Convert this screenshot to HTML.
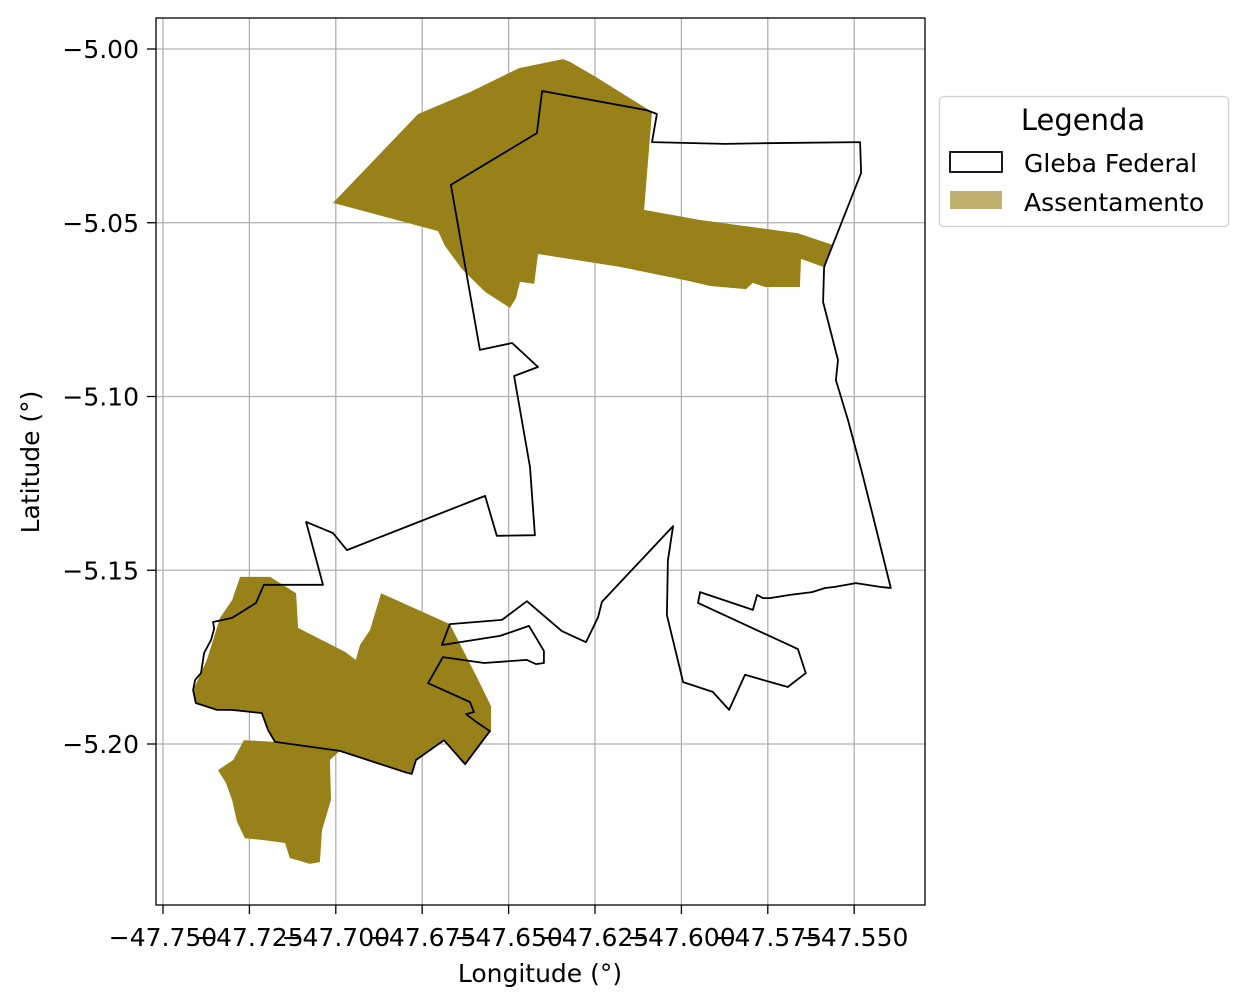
<!DOCTYPE html>
<html><head><meta charset="utf-8"><style>
html,body{margin:0;padding:0;background:#fff;}
svg{display:block;font-family:"DejaVu Sans","Liberation Sans",sans-serif;}
</style></head><body>
<svg id="chart" width="1246" height="1006" viewBox="0 0 1246 1006">
<rect x="0" y="0" width="1246" height="1006" fill="#fff"/>
<g id="grid"></g>
<g id="marks"></g>
<rect x="156" y="18" width="769" height="887" fill="none" stroke="#000" stroke-width="1.3"/>
<g id="ticks"></g>
<text x="540" y="982" font-size="25" text-anchor="middle">Longitude (°)</text>
<text x="39" y="462" font-size="25" text-anchor="middle" transform="rotate(-90 39 462)">Latitude (°)</text>
<g>
<rect x="939.5" y="96.5" width="289" height="130" rx="4" fill="#fff" stroke="#d0d0d0" stroke-width="1.3"/>
<text x="1083" y="130" font-size="29" text-anchor="middle">Legenda</text>
<rect x="950" y="152" width="52" height="20" fill="none" stroke="#000" stroke-width="1.8"/>
<text x="1024" y="172" font-size="25">Gleba Federal</text>
<rect x="950" y="191" width="52" height="18" fill="#c0b171"/>
<text x="1024" y="211" font-size="25">Assentamento</text>
</g>
</svg>
<script>
const xTicks=[-47.75,-47.725,-47.7,-47.675,-47.65,-47.625,-47.6,-47.575,-47.55];
const xTickLabels=["−47.750","−47.725","−47.700","−47.675","−47.650","−47.625","−47.600","−47.575","−47.550"];
const yTicks=[-5.00,-5.05,-5.10,-5.15,-5.20];
const yTickLabels=["−5.00","−5.05","−5.10","−5.15","−5.20"];
const glebaLon=[-47.6403,-47.6100,-47.6071,-47.6085,-47.5874,-47.5758,-47.5483,-47.5480,-47.5587,-47.5590,-47.5547,-47.5553,-47.5518,-47.5477,-47.5443,-47.5394,-47.5425,-47.5495,-47.5556,-47.5584,-47.5622,-47.5686,-47.5744,-47.5764,-47.5781,-47.5793,-47.5946,-47.5952,-47.5663,-47.5640,-47.5692,-47.5816,-47.5862,-47.5909,-47.5995,-47.6042,-47.6039,-47.6024,-47.6230,-47.6241,-47.6276,-47.6346,-47.6447,-47.6519,-47.6670,-47.6693,-47.6525,-47.6441,-47.6398,-47.6398,-47.6421,-47.6447,-47.6571,-47.6690,-47.6733,-47.6612,-47.6600,-47.6623,-47.6597,-47.6554,-47.6626,-47.6687,-47.6768,-47.6780,-47.6794,-47.6988,-47.7176,-47.7196,-47.7214,-47.7300,-47.7344,-47.7405,-47.7413,-47.7407,-47.7390,-47.7381,-47.7361,-47.7352,-47.7355,-47.7300,-47.7231,-47.7208,-47.7037,-47.7086,-47.7008,-47.6968,-47.6568,-47.6534,-47.6424,-47.6438,-47.6484,-47.6415,-47.6490,-47.6583,-47.6667,-47.6418];
const glebaLat=[-5.0121,-5.0176,-5.0187,-5.0268,-5.0273,-5.0271,-5.0268,-5.0357,-5.0627,-5.0728,-5.0895,-5.0953,-5.1068,-5.1220,-5.1355,-5.1551,-5.1548,-5.1537,-5.1548,-5.1551,-5.1563,-5.1571,-5.1580,-5.1580,-5.1571,-5.1614,-5.1563,-5.1594,-5.1727,-5.1796,-5.1836,-5.1801,-5.1902,-5.1850,-5.1822,-5.1629,-5.1471,-5.1373,-5.1591,-5.1635,-5.1707,-5.1675,-5.1589,-5.1643,-5.1655,-5.1715,-5.1689,-5.1660,-5.1732,-5.1767,-5.1770,-5.1758,-5.1767,-5.1750,-5.1825,-5.1879,-5.1908,-5.1914,-5.1934,-5.1963,-5.2058,-5.1989,-5.2046,-5.2086,-5.2083,-5.2020,-5.1994,-5.1960,-5.1911,-5.1902,-5.1902,-5.1882,-5.1845,-5.1816,-5.1796,-5.1738,-5.1701,-5.1669,-5.1649,-5.1637,-5.1594,-5.1542,-5.1542,-5.1361,-5.1393,-5.1442,-5.1286,-5.1401,-5.1399,-5.1203,-5.0941,-5.0915,-5.0846,-5.0866,-5.0391,-5.0242];
const northLon=[-47.7008,-47.6762,-47.6612,-47.6470,-47.6343,-47.6322,-47.6244,-47.6085,-47.6108,-47.5946,-47.5663,-47.5561,-47.5590,-47.5654,-47.5657,-47.5758,-47.5793,-47.5813,-47.5917,-47.5990,-47.6178,-47.6415,-47.6426,-47.6467,-47.6479,-47.6496,-47.6568,-47.6635,-47.6684,-47.6704];
const northLat=[-5.0443,-5.0187,-5.0124,-5.0055,-5.0029,-5.0037,-5.0083,-5.0181,-5.0463,-5.0492,-5.0530,-5.0564,-5.0627,-5.0604,-5.0685,-5.0685,-5.0673,-5.0691,-5.0682,-5.0665,-5.0627,-5.0590,-5.0676,-5.0670,-5.0717,-5.0745,-5.0699,-5.0633,-5.0567,-5.0524];
const southLon=[-47.7277,-47.7190,-47.7115,-47.7109,-47.6973,-47.6942,-47.6930,-47.6901,-47.6869,-47.6670,-47.6589,-47.6551,-47.6551,-47.6626,-47.6687,-47.6768,-47.6780,-47.6988,-47.7017,-47.7014,-47.7040,-47.7046,-47.7075,-47.7133,-47.7147,-47.7214,-47.7263,-47.7286,-47.7300,-47.7318,-47.7341,-47.7297,-47.7266,-47.7176,-47.7196,-47.7214,-47.7344,-47.7405,-47.7413,-47.7390,-47.7373,-47.7355,-47.7335,-47.7300];
const southLat=[-5.1519,-5.1519,-5.1566,-5.1666,-5.1735,-5.1758,-5.1715,-5.1672,-5.1566,-5.1655,-5.1813,-5.1891,-5.1963,-5.2058,-5.1989,-5.2046,-5.2086,-5.2020,-5.2046,-5.2161,-5.2248,-5.2340,-5.2345,-5.2328,-5.2285,-5.2276,-5.2271,-5.2224,-5.2161,-5.2112,-5.2075,-5.2046,-5.1989,-5.1994,-5.1960,-5.1911,-5.1902,-5.1882,-5.1845,-5.1796,-5.1758,-5.1701,-5.1637,-5.1586];

const NS="http://www.w3.org/2000/svg";
function xs(lon){return 163+(lon+47.75)*3456;}
function ys(lat){return 49+(-5.0-lat)*3475;}
function pts(lo,la){return lo.map((v,i)=>xs(v).toFixed(1)+","+ys(la[i]).toFixed(1)).join(" ");}
const grid=document.getElementById('grid'),ticks=document.getElementById('ticks'),marks=document.getElementById('marks');
function mk(tag,attrs,parent){const e=document.createElementNS(NS,tag);for(const k in attrs)e.setAttribute(k,attrs[k]);parent.appendChild(e);return e;}
xTicks.forEach((t,i)=>{
  const x=xs(t);
  const g=mk('line',{x1:x,x2:x,y1:18,y2:905,stroke:'#b0b0b0','stroke-width':1.3},grid);
  
  
  const tk=mk('line',{x1:x,x2:x,y1:905,y2:914,stroke:'#000','stroke-width':1.3},ticks);
  
  
  const tx=mk('text',{x:x,y:946,'font-size':25,'text-anchor':'middle'},ticks);
  tx.textContent=xTickLabels[i];
  
  
});
yTicks.forEach((t,i)=>{
  const y=ys(t);
  const g=mk('line',{x1:156,x2:925,y1:y,y2:y,stroke:'#b0b0b0','stroke-width':1.3},grid);
  
  
  const tk=mk('line',{x1:147,x2:156,y1:y,y2:y,stroke:'#000','stroke-width':1.3},ticks);
  
  
  const tx=mk('text',{x:139,y:y+9,'font-size':25,'text-anchor':'end'},ticks);
  tx.textContent=yTickLabels[i];
  
  
});
const pn=mk('polygon',{points:pts(northLon,northLat),fill:'#978118'},marks);


const ps=mk('polygon',{points:pts(southLon,southLat),fill:'#978118'},marks);


const pg=mk('polygon',{points:pts(glebaLon,glebaLat),fill:'none',stroke:'#000','stroke-width':1.8,'stroke-linejoin':'round'},marks);


</script>
</body></html>
